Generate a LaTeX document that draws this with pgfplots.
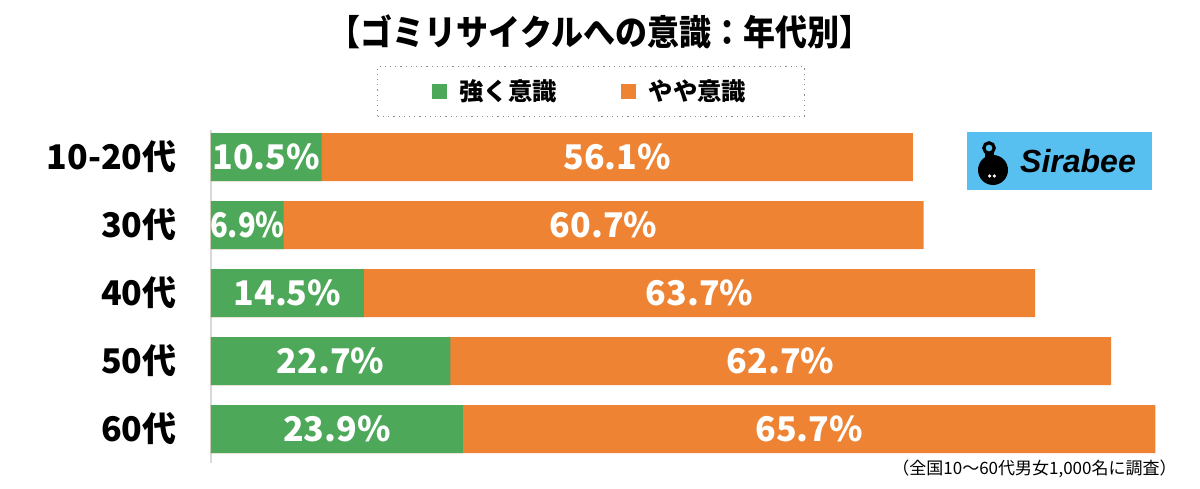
\documentclass[border=0pt]{standalone}
\usepackage{pgfplots}
\pgfplotsset{compat=1.18}
\usepackage{pgfplotstable}
\usepackage{fontspec}
\setmainfont{Noto Sans CJK JP}
\newfontfamily\logofont{Liberation Sans}

\definecolor{greenc}{RGB}{78,168,90}
\definecolor{orangec}{RGB}{237,131,51}
\definecolor{logoblue}{RGB}{88,192,240}

\pgfplotstableread{
age strong some pos
1020 10.5 56.1 4
30 6.9 60.7 3
40 14.5 63.7 2
50 22.7 62.7 1
60 23.9 65.7 0
}\datatable

\begin{document}
\begin{tikzpicture}
\path[use as bounding box] (0,0) rectangle (600pt,-244pt);

% title
\node[font=\bfseries\fontsize{16}{16}\selectfont, yscale=1.1] at (300pt,-16pt) {【ゴミリサイクルへの意識：年代別】};

\begin{axis}[
    at={(105.5pt,-64.9pt)}, anchor=north west,
    scale only axis,
    width=474.3pt, height=166.6pt,
    xmin=0, xmax=90,
    ymin=-0.5, ymax=4.4,
    axis x line=none,
    axis y line*=left,
    y axis line style={draw=black!15, line width=0.6pt},
    ytick={0,1,2,3,4},
    yticklabels={60代,50代,40代,30代,10-20代},
    major tick length=0pt,
    yticklabel style={font=\bfseries\fontsize{17}{17}\selectfont, anchor=east, inner sep=0pt, xshift=-17pt},
    /pgf/number format/assume math mode=true,
    clip=false,
    legend columns=2,
    legend image code/.code={\fill[#1, draw=none] (0pt,-3.75pt) rectangle (7.5pt,3.75pt); \path (11.5pt,0pt);},
    legend style={at={(axis description cs:0.4006,1.115)}, anchor=center,
        draw=black!45, dotted, line width=0.6pt,
        inner xsep=27pt, inner ysep=4.5pt,
        font=\bfseries\fontsize{12.2}{12.2}\selectfont,
        /tikz/every even column/.append style={column sep=30pt}},
]
\addlegendimage{fill=greenc}
\addlegendentry{強く意識}
\addlegendimage{fill=orangec}
\addlegendentry{やや意識}

% total bar (orange), then green on top
\addplot[xbar, bar width=24pt, bar shift=0pt, fill=orangec, draw=none, forget plot]
    table[x expr=\thisrow{strong}+\thisrow{some}, y=pos]{\datatable};
\addplot[xbar, bar width=24pt, bar shift=0pt, fill=greenc, draw=none, forget plot]
    table[x=strong, y=pos]{\datatable};

% labels centred in each segment (narrow segments get a narrower label)
\addplot[draw=none, mark=none, forget plot, point meta=explicit,
    visualization depends on={ifthenelse(\thisrow{strong}<8,0.86,1) \as \scl},
    nodes near coords={\pgfmathprintnumber[fixed,precision=1,fixed zerofill]{\pgfplotspointmeta}\%},
    every node near coord/.append style={anchor=center, inner sep=0pt, text=white, xscale=\scl,
        font=\bfseries\fontsize{17}{17}\selectfont}]
    table[x expr=\thisrow{strong}/2, y=pos, meta=strong]{\datatable};
\addplot[draw=none, mark=none, forget plot, point meta=explicit,
    nodes near coords={\pgfmathprintnumber[fixed,precision=1,fixed zerofill]{\pgfplotspointmeta}\%},
    every node near coord/.append style={anchor=center, inner sep=0pt, text=white,
        font=\bfseries\fontsize{17}{17}\selectfont}]
    table[x expr=\thisrow{strong}+\thisrow{some}/2, y=pos, meta=some]{\datatable};
\end{axis}

% logo
\fill[logoblue] (483.5pt,-66pt) rectangle (576pt,-95pt);
\fill[black] (496.5pt,-85pt) circle (7.5pt);
\draw[black, line width=1.6pt] (494.5pt,-74pt) circle (2.6pt);
\fill[black] (492.5pt,-76pt) rectangle (497pt,-80pt);
\fill[white] (494.8pt,-88pt) circle (0.9pt);
\fill[white] (497.2pt,-88pt) circle (0.9pt);
\node[font=\logofont\bfseries\itshape\fontsize{16}{16}\selectfont] at (539pt,-80.5pt) {Sirabee};

% footnote
\node[anchor=east, font=\fontsize{8.5}{8.5}\selectfont, inner sep=0pt] at (588.5pt,-234.5pt) {（全国10〜60代男女1,000名に調査）};
\end{tikzpicture}
\end{document}
